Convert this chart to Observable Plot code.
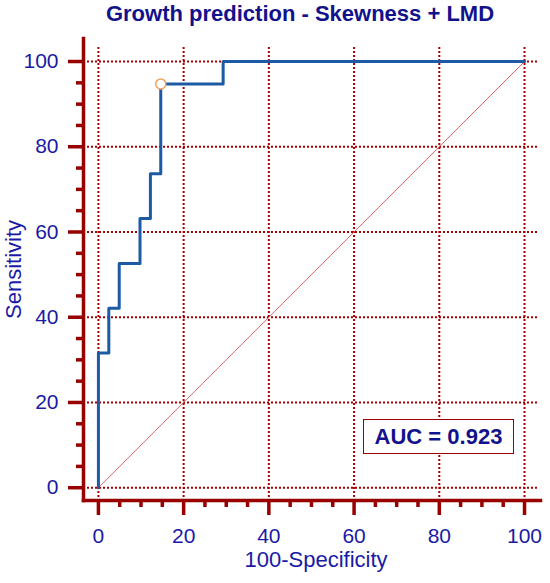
<!DOCTYPE html>
<html><head><meta charset="utf-8">
<script src="https://cdn.jsdelivr.net/npm/d3@7"></script>
<script src="https://cdn.jsdelivr.net/npm/@observablehq/plot@0.6"></script>
<style>
body{margin:0;background:#fff;font-family:"Liberation Sans",Arial,sans-serif;}
#wrap{position:relative;width:550px;height:583px;overflow:hidden;}
#title{height:28px;line-height:28px;font-size:22px;font-weight:bold;color:#12128c;text-align:center;padding-left:50px;box-sizing:border-box;width:550px;white-space:nowrap;}
#chart svg{display:block;}
#auc{position:absolute;left:363px;top:419px;width:151px;height:35px;box-sizing:border-box;border:1.5px solid #9b0000;background:#fff;color:#12128c;font-weight:bold;font-size:22px;display:flex;align-items:center;justify-content:center;white-space:nowrap;}
</style></head><body>
<div id="wrap"><div id="title"></div><div id="chart"></div><div id="auc"></div></div>
<script>
const title = "Growth prediction - Skewness + LMD";
const xLabel = "100-Specificity";
const yLabel = "Sensitivity";
const aucValue = 0.923;
// ROC curve corner points (100-Specificity, Sensitivity)
const rocFpr = [0, 0, 2.44, 4.88, 9.76, 12.2, 14.63, 29.27, 100];
const rocTpr = [0, 31.58, 42.11, 52.63, 63.16, 73.68, 94.74, 100, 100];
// optimal criterion point
const criterionFpr = [14.63];
const criterionTpr = [94.74];
// reference diagonal
const diagonal = [0, 100];
const majorTicks = [0, 20, 40, 60, 80, 100];
const minorTicks = [5, 10, 15, 25, 30, 35, 45, 50, 55, 65, 70, 75, 85, 90, 95];

const roc = rocFpr.map((x, i) => ({x, y: rocTpr[i]}));
const crit = criterionFpr.map((x, i) => ({x, y: criterionTpr[i]}));
const diag = diagonal.map(v => ({x: v, y: v}));

document.getElementById("title").textContent = title;
document.getElementById("auc").textContent = "AUC = " + aucValue.toFixed(3);

const axisRed = "#990000";
const gridRed = "#a80000";
const textBlue = "#1a1aa6";

const chart = Plot.plot({
  width: 550,
  height: 555,
  marginTop: 10,
  marginBottom: 83,
  marginLeft: 83,
  marginRight: 10,
  style: {fontFamily: "'Liberation Sans', Arial, sans-serif", fontSize: "21px", background: "#fff"},
  x: {domain: [-3.5, 103.75]},
  y: {domain: [-3, 105.4]},
  marks: [
    Plot.gridX({ticks: majorTicks, stroke: gridRed, strokeOpacity: 1, strokeWidth: 2, strokeDasharray: "2,2", insetTop: 9}),
    Plot.gridY({ticks: majorTicks, stroke: gridRed, strokeOpacity: 1, strokeWidth: 2, strokeDasharray: "2,2", insetRight: 2}),
    Plot.line(diag, {x: "x", y: "y", stroke: "#dc6a6a", strokeWidth: 1}),
    Plot.line(roc, {x: "x", y: "y", curve: "step-after", stroke: "#1c5aa6", strokeWidth: 3}),
    Plot.dot(crit, {x: "x", y: "y", r: 5, stroke: "#f2a35e", strokeWidth: 1.5, fill: "#fff"}),
    Plot.frame({anchor: "left", stroke: axisRed, strokeWidth: 3.5}),
    Plot.frame({anchor: "bottom", stroke: axisRed, strokeWidth: 3.5}),
    Plot.axisX({ticks: majorTicks, tickSize: 15, strokeWidth: 3.5, stroke: axisRed, text: null, label: null}),
    Plot.axisX({ticks: minorTicks, tickSize: 7, strokeWidth: 3.5, stroke: axisRed, text: null, label: null}),
    Plot.axisX({ticks: majorTicks, tickSize: 0, tickPadding: 28, fill: textBlue, label: null, fontSize: 21}),
    Plot.axisY({ticks: majorTicks, tickSize: 15, strokeWidth: 3.5, stroke: axisRed, text: null, label: null}),
    Plot.axisY({ticks: minorTicks, tickSize: 7, strokeWidth: 3.5, stroke: axisRed, text: null, label: null}),
    Plot.axisY({ticks: majorTicks, tickSize: 0, tickPadding: 25, fill: textBlue, label: null, fontSize: 21}),
    Plot.text([xLabel], {frameAnchor: "bottom", dy: 66, dx: 4, fill: textBlue, fontSize: 22}),
    Plot.text([yLabel], {frameAnchor: "left", textAnchor: "middle", dx: -70, rotate: -90, fill: textBlue, fontSize: 22})
  ]
});
document.getElementById("chart").appendChild(chart);
</script>
</body></html>
